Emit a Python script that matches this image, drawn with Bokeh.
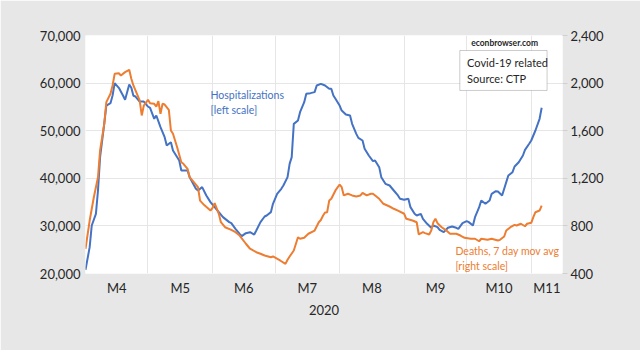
from bokeh.plotting import figure
from bokeh.models import Range1d, LinearAxis, FixedTicker, NumeralTickFormatter, Label, BoxAnnotation
from bokeh.embed import file_html
from bokeh.resources import INLINE

# Days since 1 April 2020
hosp_day = [0, 2, 3, 5, 6, 7, 9, 10, 12, 13, 14, 16, 18, 19, 21, 22, 23, 24, 26, 28,
            30, 31, 33, 34, 36, 38, 39, 41, 42, 45, 46, 49, 50, 53, 54, 56, 58, 60, 62, 64,
            66, 69, 70, 72, 74, 75, 77, 79, 81, 82, 84, 86, 87, 89, 90, 92, 94, 95, 97, 98,
            99, 100, 102, 103, 105, 106, 108, 110, 111, 113, 115, 117, 118, 119, 120, 122, 123, 125, 127, 128,
            130, 131, 133, 134, 136, 138, 139, 141, 142, 144, 146, 148, 150, 151, 153, 155, 156, 158, 159, 161,
            162, 164, 166, 167, 169, 170, 172, 174, 176, 178, 179, 181, 183, 184, 186, 187, 189, 190, 192, 194,
            195, 197, 198, 200, 202, 203, 205, 206, 208, 210, 211, 213, 214, 216, 218, 219]
hosp_val = [20780, 25530, 30080, 32540, 37440, 44440, 51440, 55290, 55780, 57390, 59980, 59010, 57390, 56490, 59700, 59010, 57330, 57180, 56130, 56130,
            55080, 54810, 52500, 53190, 50740, 48640, 46890, 47590, 45840, 43740, 41640, 41640, 40240, 37800, 37440, 38140, 36390, 34990, 33940, 32890,
            31840, 30790, 30580, 29390, 28340, 27840, 28470, 28680, 28190, 29030, 30790, 31980, 32190, 32890, 34640, 36740, 37800, 38490, 40240, 43040,
            44440, 51440, 52140, 53890, 55990, 57750, 57890, 58100, 59500, 59850, 59500, 58800, 58800, 57390, 56700, 55290, 54240, 53400, 53190, 51440,
            49340, 48500, 47940, 46200, 44790, 43600, 43740, 42340, 40240, 38840, 38490, 37440, 36390, 35700, 35480, 35700, 33940, 32540, 32190, 32540,
            31490, 30440, 29600, 30080, 29730, 29180, 28680, 29600, 29870, 29600, 29390, 30580, 30990, 30790, 30080, 31840, 33940, 35340, 34640, 35340,
            36740, 37290, 37230, 36390, 39190, 40590, 41290, 42480, 43380, 44790, 45980, 47250, 47940, 50040, 52500, 54810]

death_day = [0, 2, 4, 6, 7, 9, 10, 12, 13, 14, 16, 17, 19, 21, 22, 23, 24, 26, 27, 28,
             30, 31, 33, 34, 35, 36, 37, 38, 40, 41, 42, 44, 46, 47, 49, 50, 52, 54, 55, 57,
             60, 61, 62, 64, 65, 67, 70, 72, 74, 77, 79, 82, 84, 86, 89, 90, 93, 94, 96, 97,
             98, 100, 102, 103, 105, 107, 110, 112, 113, 114, 115, 116, 117, 118, 120, 122, 123, 124, 126, 128,
             130, 132, 133, 135, 137, 138, 141, 143, 146, 148, 150, 153, 154, 157, 159, 160, 162, 163, 165, 166,
             167, 168, 169, 171, 173, 175, 178, 180, 182, 185, 187, 189, 190, 193, 195, 198, 199, 201, 202, 204,
             206, 207, 209, 211, 212, 214, 215, 216, 218, 219]
death_val = [608, 845, 1041, 1209, 1434, 1658, 1840, 1910, 1980, 2078, 2083, 2064, 2092, 2112, 2036, 1980, 1938, 1854, 1728, 1812,
             1860, 1831, 1826, 1803, 1848, 1742, 1826, 1820, 1776, 1602, 1574, 1461, 1335, 1322, 1280, 1209, 1167, 1125, 1013, 975,
             929, 952, 991, 902, 831, 789, 767, 747, 719, 650, 608, 579, 566, 551, 537, 543, 515, 503, 481, 515,
             543, 593, 705, 692, 700, 734, 761, 831, 850, 885, 912, 915, 1013, 1028, 1098, 1148, 1125, 1056, 1070, 1056,
             1047, 1056, 1078, 1056, 1070, 1070, 1028, 986, 963, 944, 929, 902, 860, 845, 831, 728, 747, 739, 728, 761,
             831, 860, 823, 789, 765, 734, 734, 719, 700, 692, 692, 671, 692, 683, 692, 677, 683, 711, 761, 789,
             809, 803, 818, 797, 818, 826, 873, 915, 929, 971]

month_starts = [0, 30, 61, 91, 122, 153, 183, 214]
month_labels = ["M4", "M5", "M6", "M7", "M8", "M9", "M10", "M11"]
x_end = 229
left_ticks = [20000, 30000, 40000, 50000, 60000, 70000]
right_ticks = [400, 800, 1200, 1600, 2000, 2400]

FONT = "Lato"
TXT = "#262626"
BLUE = "#4472C4"
ORANGE = "#ED7D31"
BG = "#e7e7e7"

p = figure(width=640, height=350, output_backend="svg", toolbar_location=None,
           x_range=Range1d(0, x_end), y_range=Range1d(20000, 70000),
           min_border_left=85, min_border_right=78, min_border_top=35, min_border_bottom=77)
p.background_fill_color = "white"
p.border_fill_color = BG
p.outline_line_color = None
p.extra_y_ranges = {"right": Range1d(400, 2400)}

# x axis: labels centered in each month
mids = []
for i, s in enumerate(month_starts):
    e = month_starts[i + 1] if i + 1 < len(month_starts) else x_end
    mids.append((s + e) / 2 + 0.001)
p.xaxis.ticker = FixedTicker(ticks=mids)
p.xaxis.major_label_overrides = {m: lab for m, lab in zip(mids, month_labels)}
p.xaxis.axis_line_color = None
p.xaxis.major_tick_line_color = None
p.xaxis.major_tick_out = 0
p.xaxis.major_tick_in = 0
p.xaxis.minor_tick_line_color = None
p.xaxis.major_label_standoff = 6
p.xaxis.major_label_text_font = FONT
p.xaxis.major_label_text_font_size = "13px"
p.xaxis.major_label_text_color = TXT
p.xaxis.axis_label = "2020"
p.xaxis.axis_label_text_font = FONT
p.xaxis.axis_label_text_font_size = "13px"
p.xaxis.axis_label_text_font_style = "normal"
p.xaxis.axis_label_text_color = TXT
p.xaxis.axis_label_standoff = 6

p.yaxis.ticker = FixedTicker(ticks=left_ticks)
p.yaxis.formatter = NumeralTickFormatter(format="0,0")
p.yaxis.axis_line_color = None
p.yaxis.major_tick_line_color = None
p.yaxis.major_tick_out = 0
p.yaxis.major_tick_in = 0
p.yaxis.minor_tick_line_color = None
p.yaxis.major_label_standoff = 5
p.yaxis.major_label_text_font = FONT
p.yaxis.major_label_text_font_size = "13px"
p.yaxis.major_label_text_color = TXT

ry = LinearAxis(y_range_name="right", ticker=FixedTicker(ticks=right_ticks),
                formatter=NumeralTickFormatter(format="0,0"))
ry.axis_line_color = None
ry.major_tick_line_color = "#d0d0d0"
ry.major_tick_out = 5
ry.major_tick_in = 0
ry.minor_tick_line_color = None
ry.major_label_standoff = 3
ry.major_label_text_font = FONT
ry.major_label_text_font_size = "13px"
ry.major_label_text_color = TXT
p.add_layout(ry, "right")

p.xgrid.ticker = FixedTicker(ticks=month_starts)
p.xgrid.grid_line_color = "#e6e6e6"
p.ygrid.grid_line_color = "#e6e6e6"

p.line(hosp_day, hosp_val, line_color=BLUE, line_width=2)
p.line(death_day, death_val, line_color=ORANGE, line_width=2, y_range_name="right")

def lab(x, y, t, color, size, align="left", style="normal"):
    p.add_layout(Label(x=x, y=y, text=t, text_color=color, text_font=FONT,
                       text_font_size=size, text_align=align, text_baseline="middle",
                       text_font_style=style))

lab(60, 57600, "Hospitalizations", BLUE, "10.5px")
lab(60, 54350, "[left scale]", BLUE, "10.5px")
lab(177.6, 24690, "Deaths, 7 day mov avg", ORANGE, "10.5px")
lab(177.6, 21530, "[right scale]", ORANGE, "10.5px")
lab(201.2, 68380, "econbrowser.com", TXT, "8.5px", "center", "bold")
p.add_layout(BoxAnnotation(left=179.7, right=221.6, bottom=58450, top=66850,
                           fill_color="white", fill_alpha=1, line_color="#555555", line_width=1))
lab(183.2, 64390, "Covid-19 related", TXT, "11px")
lab(183.2, 61030, "Source: CTP", TXT, "11px")

open("out.html", "w").write(file_html(p, INLINE))
